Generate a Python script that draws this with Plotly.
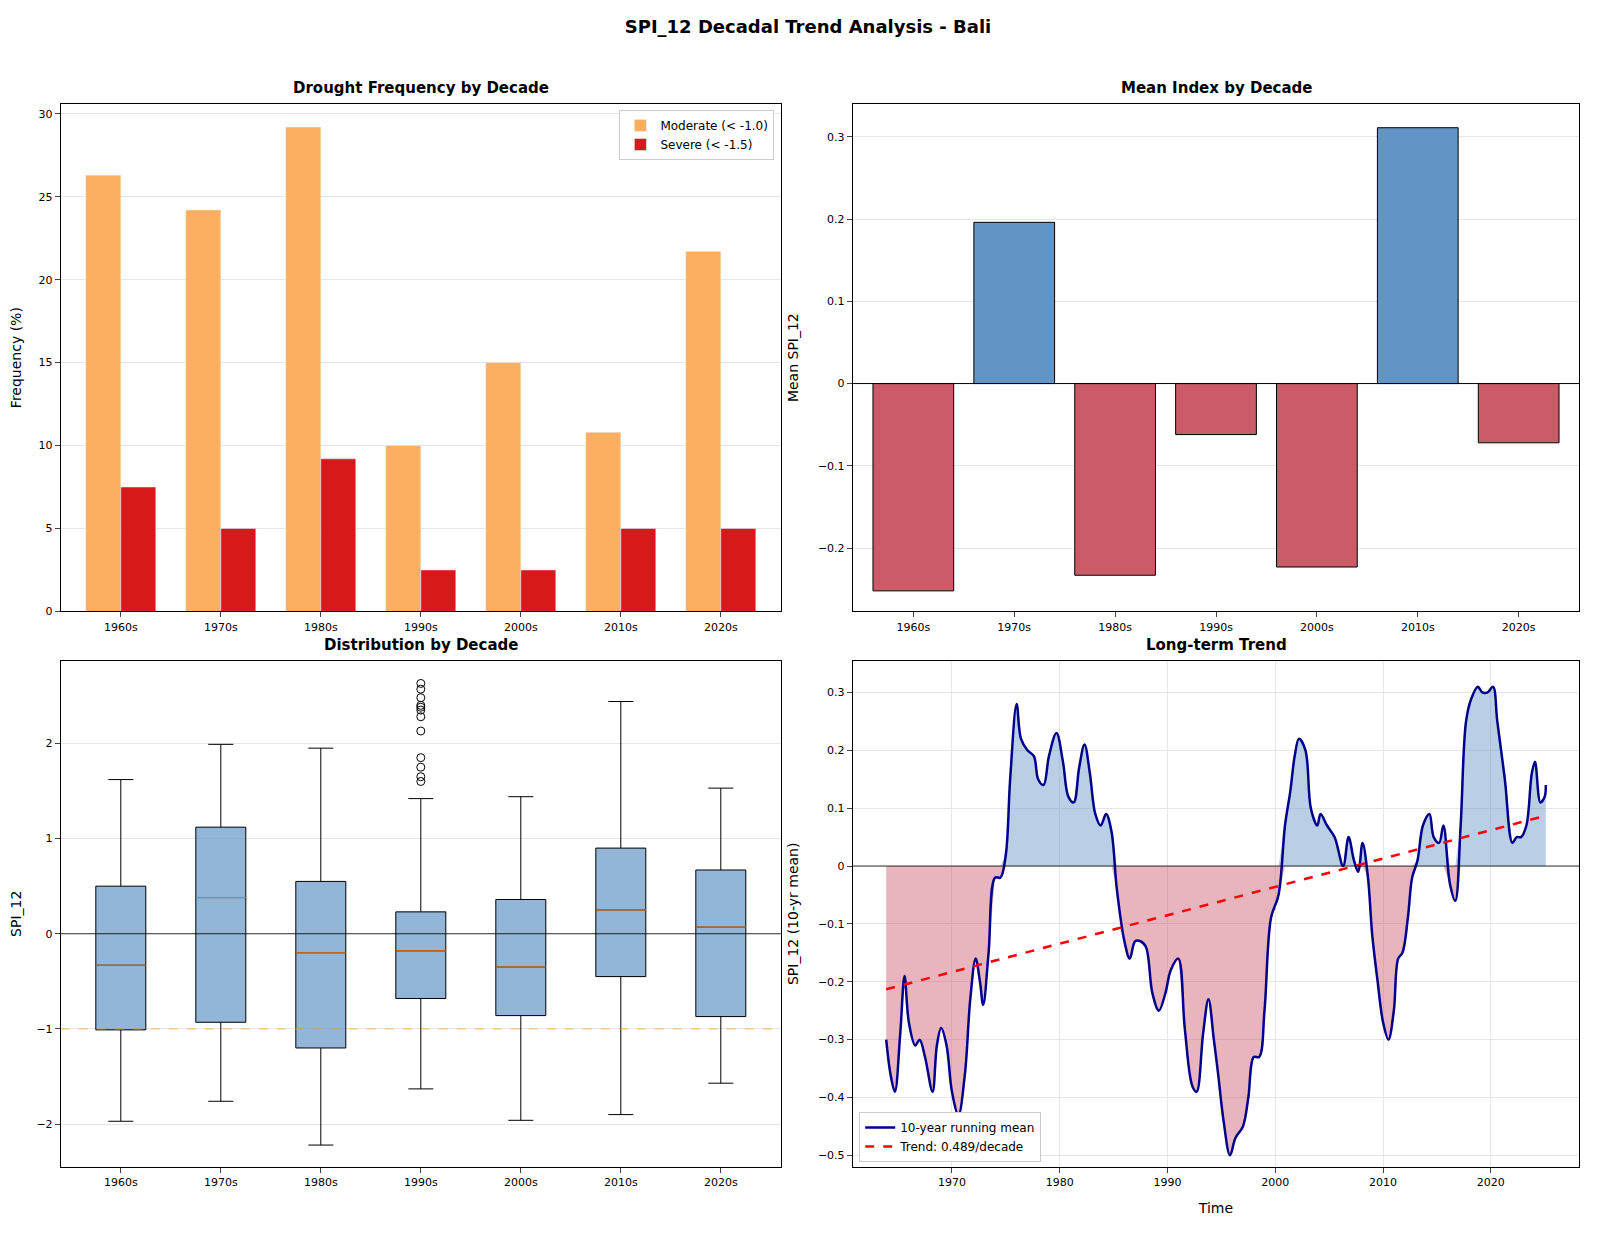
import numpy as np
import plotly.graph_objects as go
from plotly.subplots import make_subplots

decades = ["1960s", "1970s", "1980s", "1990s", "2000s", "2010s", "2020s"]
moderate = [26.3, 24.2, 29.2, 10.0, 15.0, 10.8, 21.7]
severe = [7.5, 5.0, 9.2, 2.5, 2.5, 5.0, 5.0]
mean_idx = [-0.252, 0.196, -0.233, -0.062, -0.223, 0.311, -0.072]

box_low = [-1.97, -1.76, -2.22, -1.63, -1.96, -1.90, -1.57]
box_q1 = [-1.01, -0.93, -1.20, -0.68, -0.86, -0.45, -0.87]
box_med = [-0.33, 0.38, -0.20, -0.18, -0.35, 0.25, 0.07]
box_q3 = [0.50, 1.12, 0.55, 0.23, 0.36, 0.90, 0.67]
box_high = [1.62, 1.99, 1.95, 1.42, 1.44, 2.44, 1.53]
outliers_1990s = [1.60, 1.65, 1.75, 1.85, 2.13, 2.28, 2.35, 2.38, 2.40, 2.48, 2.57, 2.63]

run_years = [1963.9, 1964.3, 1964.7, 1965.2, 1965.6, 1966, 1966.6, 1967, 1967.5, 1968.2, 1968.6, 1969, 1969.5,
             1970, 1970.6, 1971.2, 1971.7, 1972.2, 1972.6, 1972.9, 1973.4, 1974, 1974.5, 1975, 1975.4, 1976,
             1976.4, 1977, 1977.6, 1978, 1978.5, 1979, 1979.7, 1980.3, 1980.8, 1981.3, 1981.8, 1982.3, 1982.8,
             1983.3, 1983.8, 1984.3, 1984.8, 1985.3, 1986, 1986.5, 1987, 1987.5, 1988, 1988.6, 1989.2, 1989.8,
             1990.3, 1991, 1991.6, 1992.3, 1992.7, 1993.3, 1993.8, 1994.3, 1994.7, 1995.2, 1995.8, 1996.3, 1997,
             1997.5, 1998, 1998.5, 1999, 1999.6, 2000.3, 2000.9, 2001.4, 2001.8, 2002.2, 2002.8, 2003.3, 2003.9,
             2004.2, 2004.8, 2005.5, 2006.3, 2006.8, 2007.3, 2007.7, 2008.1, 2008.6, 2009, 2009.5, 2010, 2010.5,
             2011, 2011.4, 2011.8, 2012.3, 2012.7, 2013.2, 2013.7, 2014.3, 2014.7, 2015.2, 2015.6, 2016.2, 2016.7,
             2017.2, 2017.7, 2018.2, 2018.8, 2019.2, 2019.7, 2020.2, 2020.6, 2021.3, 2022, 2022.4, 2022.8, 2023.3,
             2023.8, 2024.1, 2024.6, 2025, 2025.1]
run_vals = [-0.30, -0.36, -0.39, -0.29, -0.19, -0.27, -0.31, -0.30, -0.33, -0.39, -0.31, -0.28, -0.31,
            -0.39, -0.43, -0.36, -0.23, -0.16, -0.20, -0.24, -0.15, -0.02, -0.02, 0.02, 0.15, 0.28,
            0.22, 0.20, 0.19, 0.15, 0.14, 0.19, 0.23, 0.18, 0.12, 0.11, 0.17, 0.21, 0.16,
            0.09, 0.07, 0.09, 0.06, -0.04, -0.13, -0.16, -0.13, -0.13, -0.14, -0.22, -0.25, -0.22,
            -0.18, -0.16, -0.28, -0.38, -0.39, -0.29, -0.23, -0.30, -0.36, -0.44, -0.50, -0.47, -0.45,
            -0.40, -0.33, -0.33, -0.25, -0.09, -0.05, 0.07, 0.13, 0.19, 0.22, 0.20, 0.10, 0.07,
            0.09, 0.07, 0.05, 0.00, 0.05, 0.01, -0.01, 0.04, -0.02, -0.12, -0.20, -0.27, -0.30,
            -0.25, -0.16, -0.15, -0.09, -0.02, 0.01, 0.07, 0.09, 0.05, 0.04, 0.07, -0.03, -0.06,
            0.07, 0.25, 0.29, 0.31, 0.30, 0.30, 0.31, 0.25, 0.15, 0.04, 0.05, 0.05, 0.07,
            0.16, 0.18, 0.11, 0.12, 0.14]
trend_years = [1963.9, 2025.1]
trend_vals = [-0.213, 0.087]

fig = make_subplots(rows=2, cols=2,
                    subplot_titles=["<b>Drought Frequency by Decade</b>", "<b>Mean Index by Decade</b>",
                                    "<b>Distribution by Decade</b>", "<b>Long-term Trend</b>"])
x = np.arange(len(decades))

fig.add_trace(go.Bar(x=x - 0.175, y=moderate, width=0.35, marker_color="#fdae61", name="Moderate (< -1.0)",
                     legend="legend"), 1, 1)
fig.add_trace(go.Bar(x=x + 0.175, y=severe, width=0.35, marker_color="#d7191c", name="Severe (< -1.5)",
                     legend="legend"), 1, 1)

cols = ["#6295c5" if v >= 0 else "#ca5b67" for v in mean_idx]
fig.add_trace(go.Bar(x=x, y=mean_idx, width=0.8, marker=dict(color=cols, line=dict(color="black", width=1)),
                     showlegend=False), 1, 2)

for i in range(len(decades)):
    fig.add_trace(go.Box(x=[i], q1=[box_q1[i]], median=[box_med[i]], q3=[box_q3[i]],
                         lowerfence=[box_low[i]], upperfence=[box_high[i]], width=0.5, whiskerwidth=0.5,
                         fillcolor="rgba(100,149,200,0.7)", line=dict(color="black", width=1),
                         showlegend=False, hoverinfo="skip"), 2, 1)
mx, my = [], []
for i in range(len(decades)):
    mx += [i - 0.25, i + 0.25, None]
    my += [box_med[i], box_med[i], None]
fig.add_trace(go.Scatter(x=mx, y=my, mode="lines", line=dict(color="#ff7f0e", width=1), showlegend=False), 2, 1)
fig.add_trace(go.Scatter(x=[3] * len(outliers_1990s), y=outliers_1990s, mode="markers",
                         marker=dict(symbol="circle-open", size=8, color="black"), showlegend=False), 2, 1)

ry = np.array(run_years); rv = np.array(run_vals)
fig.add_trace(go.Scatter(x=ry, y=np.minimum(rv, 0), mode="lines", line=dict(width=0), fill="tozeroy",
                         fillcolor="rgba(205,92,110,0.45)", showlegend=False, hoverinfo="skip"), 2, 2)
fig.add_trace(go.Scatter(x=ry, y=np.maximum(rv, 0), mode="lines", line=dict(width=0), fill="tozeroy",
                         fillcolor="rgba(100,149,200,0.45)", showlegend=False, hoverinfo="skip"), 2, 2)
fig.add_trace(go.Scatter(x=ry, y=rv, mode="lines", line=dict(color="#00008b", width=2.5, shape="spline"),
                         name="10-year running mean", legend="legend2"), 2, 2)
fig.add_trace(go.Scatter(x=trend_years, y=trend_vals, mode="lines", line=dict(color="red", width=2.5, dash="dash"),
                         name="Trend: 0.489/decade", legend="legend2"), 2, 2)

fig.add_hline(y=0, line=dict(color="black", width=1), row=1, col=2)
fig.add_hline(y=0, line=dict(color="black", width=0.8), row=2, col=1)
fig.add_hline(y=-1, line=dict(color="orange", width=1, dash="dash"), opacity=0.7, row=2, col=1)
fig.add_hline(y=0, line=dict(color="black", width=0.8), row=2, col=2)

axstyle = dict(showline=True, linecolor="black", linewidth=1, mirror=True, ticks="outside",
               tickfont=dict(size=11, color="black"), zeroline=False)
dom = {1: [0.033, 0.483], 2: [0.528, 0.982]}
ydom = {1: [0.509, 0.922], 2: [0.057, 0.469]}
for r in (1, 2):
    for c in (1, 2):
        if (r, c) == (2, 2):
            fig.update_xaxes(range=[1960.8, 2028.2], showgrid=True, gridcolor="#e6e6e6", tickvals=[1970, 1980, 1990, 2000, 2010, 2020],
                             title_text="Time", title_font=dict(size=14), domain=dom[c], row=r, col=c, **axstyle)
        else:
            fig.update_xaxes(tickvals=list(x), ticktext=decades, range=[-0.6, 6.6], showgrid=False,
                             domain=dom[c], row=r, col=c, **axstyle)
        fig.update_yaxes(showgrid=True, gridcolor="#e6e6e6", domain=ydom[r], row=r, col=c, **axstyle)

fig.update_yaxes(range=[0, 30.6], title_text="Frequency (%)", row=1, col=1)
fig.update_yaxes(range=[-0.277, 0.34], dtick=0.1, title_text="Mean SPI_12", row=1, col=2)
fig.update_yaxes(range=[-2.45, 2.87], dtick=1, title_text="SPI_12", row=2, col=1)
fig.update_yaxes(range=[-0.52, 0.355], dtick=0.1, title_text="SPI_12 (10-yr mean)", row=2, col=2)

for a in fig.layout.annotations:
    a.font = dict(size=15, color="black")
    a.yanchor = "bottom"
fig.layout.annotations[0].update(x=sum(dom[1]) / 2, y=0.926)
fig.layout.annotations[1].update(x=sum(dom[2]) / 2, y=0.926)
fig.layout.annotations[2].update(x=sum(dom[1]) / 2, y=0.473)
fig.layout.annotations[3].update(x=sum(dom[2]) / 2, y=0.473)

fig.update_layout(
    width=1600, height=1236, plot_bgcolor="white", paper_bgcolor="white",
    font=dict(family="DejaVu Sans", color="black", size=12),
    title=dict(text="<b>SPI_12 Decadal Trend Analysis - Bali</b>", x=0.5, y=0.99, xanchor="center",
               font=dict(size=18)),
    barmode="overlay", margin=dict(l=0, r=0, t=0, b=0),
    legend=dict(x=0.479, y=0.917, xanchor="right", yanchor="top", bordercolor="#cccccc", borderwidth=1,
                bgcolor="white", font=dict(size=12)),
    legend2=dict(x=0.532, y=0.061, xanchor="left", yanchor="bottom", bordercolor="#cccccc", borderwidth=1,
                 bgcolor="white", font=dict(size=12)),
)
fig.write_html("out.html")
